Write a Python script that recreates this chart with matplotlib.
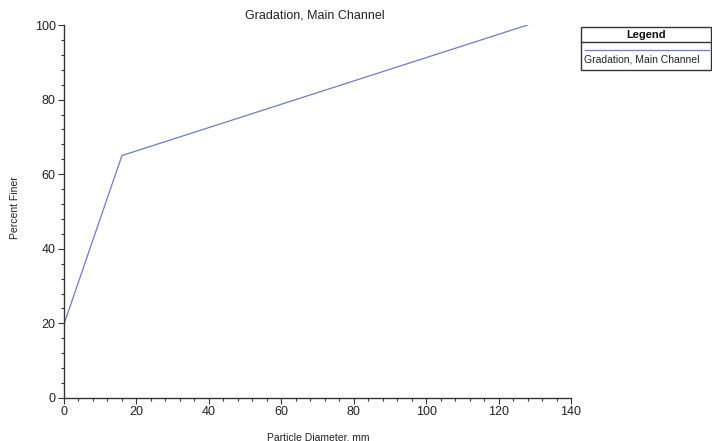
import matplotlib
matplotlib.use("Agg")
import matplotlib.pyplot as plt
from matplotlib.ticker import MultipleLocator
from matplotlib.patches import Rectangle
from matplotlib.lines import Line2D

# Gradation curve of the main channel bed material
diameter_mm = [0.002, 0.0625, 16, 128]
percent_finer = [0, 20, 65, 100]
series_name = "Gradation, Main Channel"

plt.rcParams['font.family'] = ['Liberation Sans', 'DejaVu Sans']

W, H = 712, 441
fig = plt.figure(figsize=(W / 100, H / 100), dpi=100)
left, right, top, bottom = 64, 571, 25, 398
ax = fig.add_axes([left / W, 1 - bottom / H, (right - left) / W, (bottom - top) / H])

line_color = "#6b7fc4"
ax.plot(diameter_mm, percent_finer, color=line_color, lw=0.9)

ax.set_xlim(0, 140)
ax.set_ylim(0, 100)
ax.xaxis.set_major_locator(MultipleLocator(20))
ax.xaxis.set_minor_locator(MultipleLocator(4))
ax.yaxis.set_major_locator(MultipleLocator(20))
ax.yaxis.set_minor_locator(MultipleLocator(4))

for s in ("top", "right"):
    ax.spines[s].set_visible(False)
for s in ("left", "bottom"):
    ax.spines[s].set_color("#333333")
    ax.spines[s].set_linewidth(1.0)

ax.tick_params(which="major", direction="out", length=4, width=0.8, color="#333333",
               labelsize=9, labelcolor="#222222", pad=2)
ax.tick_params(which="minor", direction="out", length=2, width=0.8, color="#333333")


def fx(x):
    return x / W


def fy(y):
    return 1 - y / H


fig.text(fx(315), fy(16), series_name, ha="center", va="center", fontsize=9, color="#222222")
fig.text(fx(318), fy(437), "Particle Diameter, mm", ha="center", va="center",
         fontsize=7.5, color="#222222")
fig.text(fx(15), fy(208), "Percent Finer", ha="center", va="center", rotation=90,
         fontsize=7.5, color="#222222")

# Legend box drawn in figure pixel coordinates
box_l, box_r, box_t, box_b = 581, 711, 27, 70
fig.patches.append(Rectangle((fx(box_l), fy(box_b)), fx(box_r - box_l), (box_b - box_t) / H,
                             transform=fig.transFigure, fill=False, edgecolor="#333333", lw=1.0))
fig.lines.append(Line2D([fx(box_l), fx(box_r)], [fy(42), fy(42)], transform=fig.transFigure,
                        color="#333333", lw=1.0))
fig.text(fx((box_l + box_r) / 2), fy(34.5), "Legend", ha="center", va="center",
         fontsize=8, fontweight="bold", color="#111111")
fig.lines.append(Line2D([fx(box_l + 4), fx(box_r - 2)], [fy(50), fy(50)], transform=fig.transFigure,
                        color=line_color, lw=0.9))
fig.text(fx(box_l + 3), fy(60), series_name, ha="left", va="center",
         fontsize=7.5, color="#222222")

fig.savefig("out.png", dpi=100)
